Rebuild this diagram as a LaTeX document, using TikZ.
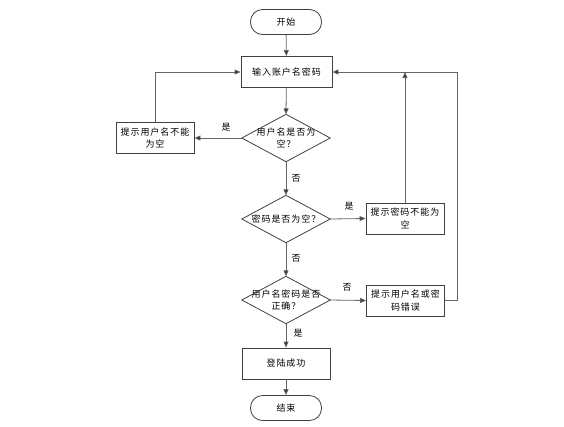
\documentclass[tikz,border=0pt]{standalone}
\usepackage{fontspec}
\setmainfont[LetterSpace=11]{Noto Sans CJK SC}
\usetikzlibrary{arrows.meta}
\begin{document}
\begin{tikzpicture}[x=1bp,y=-1bp,
  every node/.style={font=\fontsize{9bp}{12.5bp}\selectfont},
  box/.style={draw=black!75,line width=0.8bp,minimum width=#1,minimum height=31bp,inner sep=1bp,align=center},
  box/.default=78bp,
  term/.style={draw=black!75,line width=0.8bp,rounded corners=12bp,minimum width=71bp,minimum height=25bp,inner sep=1bp},
  dia/.style={minimum width=88bp,minimum height=47bp,inner sep=0bp,align=center},
  dline/.style={draw=black!75,line width=0.8bp},
  conn/.style={draw=black!60,line width=0.8bp,-{Triangle[length=6bp,width=5bp,fill=black!80]}},
  lab/.style={inner sep=1bp}]
\useasboundingbox (0,0) rectangle (564,426);
\node[term] (start) at (286,22) {开始};
\node[box=91bp] (input) at (286.5,72) {输入账户名密码};
\node[dia] (d1) at (286,138) {用户名是否为\\空？};
\draw[dline] (d1.north)--(d1.east)--(d1.south)--(d1.west)--cycle;
\node[box] (b1) at (155,138) {提示用户名不能\\为空};
\node[dia] (d2) at (286,219) {密码是否为空？};
\draw[dline] (d2.north)--(d2.east)--(d2.south)--(d2.west)--cycle;
\node[box] (b2) at (405,218.5) {提示密码不能为\\空};
\node[dia] (d3) at (286,300) {用户名密码是否\\正确？};
\draw[dline] (d3.north)--(d3.east)--(d3.south)--(d3.west)--cycle;
\node[box] (b3) at (405.5,300.5) {提示用户名或密\\码错误};
\node[box=88bp] (succ) at (286,363.5) {登陆成功};
\node[term] (end) at (286,408) {结束};
\coordinate (rt) at (457,72);
\node[lab] (l1) at (226,127) {是};
\node[lab] (l2) at (296,178) {否};
\node[lab] (l3) at (349,206) {是};
\node[lab] (l4) at (296,258) {否};
\node[lab] (l5) at (347,287) {否};
\node[lab] (l6) at (298,333) {是};
\draw[conn] (start) -- (input);
\draw[conn] (input) -- (d1.north);
\draw[conn] (d1.west) -- (b1);
\draw[conn] (b1.north) |- (input.west);
\draw[conn] (d1.south) -- (d2.north);
\draw[conn] (d2.east) -- (b2.west);
\draw[conn] (b2.north) -- (b2.north |- rt);
\draw[conn] (d2.south) -- (d3.north);
\draw[conn] (d3.east) -- (b3.west);
\draw[conn] (b3.east) -| (rt) -- (input.east);
\draw[conn] (d3.south) -- (succ.north);
\draw[conn] (succ) -- (end);
\end{tikzpicture}
\end{document}
